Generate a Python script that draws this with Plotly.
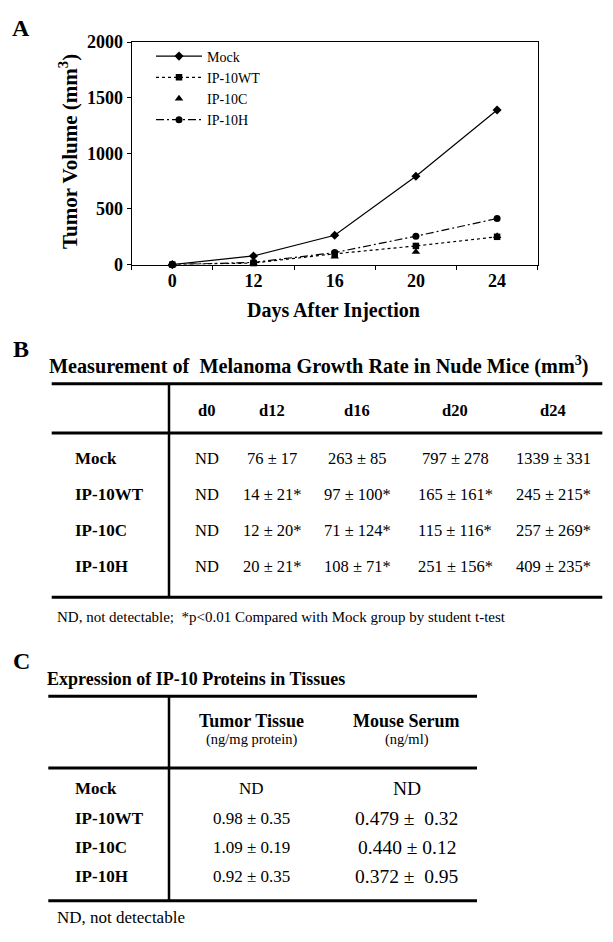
import plotly.graph_objects as go

# The page body has an 8px margin, so the figure is drawn 8px smaller and
# positions are given in window pixels then shifted by that offset.
OFF = 8
W, H = 613 - OFF, 942 - OFF
SERIF = "Liberation Serif"

# ---------------- Data ----------------
days = ["0", "12", "16", "20", "24"]
mock_vol = [0, 78, 264, 795, 1390]
wt_vol = [0, 14, 97, 168, 250]
c_vol = [0, 12, 71, 114, 257]
h_vol = [0, 20, 108, 256, 414]
y_ticks = [0, 500, 1000, 1500, 2000]

groups = ["Mock", "IP-10WT", "IP-10C", "IP-10H"]
b_cols = ["d0", "d12", "d16", "d20", "d24"]
b_mock = ["ND", "76 ± 17", "263 ± 85", "797 ± 278", "1339 ± 331"]
b_wt = ["ND", "14 ± 21*", "97 ± 100*", "165 ± 161*", "245 ± 215*"]
b_c = ["ND", "12 ± 20*", "71 ± 124*", "115 ± 116*", "257 ± 269*"]
b_h = ["ND", "20 ± 21*", "108 ± 71*", "251 ± 156*", "409 ± 235*"]

c_cols = ["Tumor Tissue", "Mouse Serum"]
c_units = ["(ng/mg protein)", "(ng/ml)"]
c_tumor = ["ND", "0.98 ± 0.35", "1.09 ± 0.19", "0.92 ± 0.35"]
c_serum = ["ND", "0.479 ±  0.32", "0.440 ± 0.12", "0.372 ±  0.95"]


def px(x):
    return (x - OFF) / W


def py(y):
    return 1 - (y - OFF) / H


fig = go.Figure()

series = [
    ("Mock", mock_vol, "diamond", 7, "lines+markers", "solid"),
    ("IP-10WT", wt_vol, "square", 6.5, "lines+markers", "dot"),
    ("IP-10C", c_vol, "triangle-up", 7.5, "markers", "solid"),
    ("IP-10H", h_vol, "circle", 7, "lines+markers", "8px,3px,2px,3px"),
]
for name, vals, sym, size, mode, dash in series:
    fig.add_trace(go.Scatter(
        x=days, y=vals, name=name, mode=mode,
        line=dict(color="black", width=1.2, dash=dash),
        marker=dict(symbol=sym, size=size, color="black"),
        cliponaxis=False,
    ))

fig.update_xaxes(
    type="category", categoryorder="array", categoryarray=days,
    range=[-0.5, 4.5], domain=[px(131.7), px(537.7)],
    showline=True, linecolor="black", linewidth=1, mirror=True,
    ticks="outside", tickson="boundaries", ticklen=4, tickcolor="black",
    showgrid=False, zeroline=False,
    tickfont=dict(family=SERIF, size=18, color="black", weight="bold"),
)
fig.update_yaxes(
    range=[0, 2000], tickvals=y_ticks, domain=[py(260), py(32.7)],
    showline=True, linecolor="black", linewidth=1, mirror=True,
    ticks="outside", ticklen=4, tickcolor="black",
    showgrid=False, zeroline=False,
    tickfont=dict(family=SERIF, size=18, color="black", weight="bold"),
)

ann = []


def text(x, y, s, size, bold=False, anchor="center", yanchor="middle", angle=0):
    ann.append(dict(
        x=px(x), y=py(y), xref="paper", yref="paper", text=s, showarrow=False,
        xanchor=anchor, yanchor=yanchor, textangle=angle,
        font=dict(family=SERIF, size=size, color="black",
                  weight="bold" if bold else "normal"),
    ))


shapes = []


def hline(x0, x1, y, w=3):
    shapes.append(dict(type="line", xref="paper", yref="paper",
                       x0=px(x0), x1=px(x1), y0=py(y), y1=py(y),
                       line=dict(color="black", width=w)))


def vline(x, y0, y1, w=2.5):
    shapes.append(dict(type="line", xref="paper", yref="paper",
                       x0=px(x), x1=px(x), y0=py(y0), y1=py(y1),
                       line=dict(color="black", width=w)))


# ---- Panel A labels ----
text(21, 18, "A", 24, bold=True)
text(68, 145, "Tumor Volume (mm<sup>3</sup>)", 21, bold=True, angle=-90)
text(333, 307, "Days After Injection", 20, bold=True)

# ---- Panel B ----
text(21, 346, "B", 24, bold=True)
text(46.7, 363, "Measurement of  Melanoma Growth Rate in Nude Mice (mm<sup>3</sup>)", 20.2,
     bold=True, anchor="left")
b_x = [206.7, 272, 357, 455, 553]
b_rows_y = [457.7, 495, 531.7, 568.3]
hline(51.7, 602.3, 381.7)
hline(51.7, 602.3, 432)
hline(51.7, 602.3, 600)
vline(169, 381.7, 600)
for xc, col in zip(b_x, b_cols):
    text(xc, 409, col, 16.5, bold=True)
for yr, g, row in zip(b_rows_y, groups, [b_mock, b_wt, b_c, b_h]):
    text(72.7, yr, g, 17, bold=True, anchor="left")
    for xc, v in zip(b_x, row):
        text(xc, yr, v, 16.5)
text(55, 620, "ND, not detectable;  *p&lt;0.01 Compared with Mock group by student t-test",
     15, anchor="left")

# ---- Panel C ----
text(21, 665, "C", 24, bold=True)
text(45, 683.3, "Expression of IP-10 Proteins in Tissues", 18, bold=True, anchor="left")
c_x = [251.7, 406.7]
c_rows_y = [795, 826, 855.7, 885.7]
hline(48.3, 477, 701)
hline(48.3, 477, 774.3)
hline(48.3, 477, 910)
vline(169, 701, 910)
for xc, col, unit in zip(c_x, c_cols, c_units):
    text(xc, 726, col, 18, bold=True)
    text(xc, 745, unit, 14.5)
for yr, g, t, s in zip(c_rows_y, groups, c_tumor, c_serum):
    text(72.7, yr, g, 17, bold=True, anchor="left")
    text(c_x[0], yr, t, 17)
    text(c_x[1], yr, s, 19.5)
text(55, 926.7, "ND, not detectable", 17, anchor="left")

fig.update_layout(
    width=W, height=H, margin=dict(l=0, r=0, t=0, b=0),
    paper_bgcolor="white", plot_bgcolor="white",
    showlegend=True,
    legend=dict(x=px(151), y=py(31), xanchor="left", yanchor="top",
                bgcolor="rgba(0,0,0,0)", borderwidth=0, itemwidth=46,
                font=dict(family=SERIF, size=14, color="black")),
    annotations=ann, shapes=shapes,
)

fig.write_html("out.html")
